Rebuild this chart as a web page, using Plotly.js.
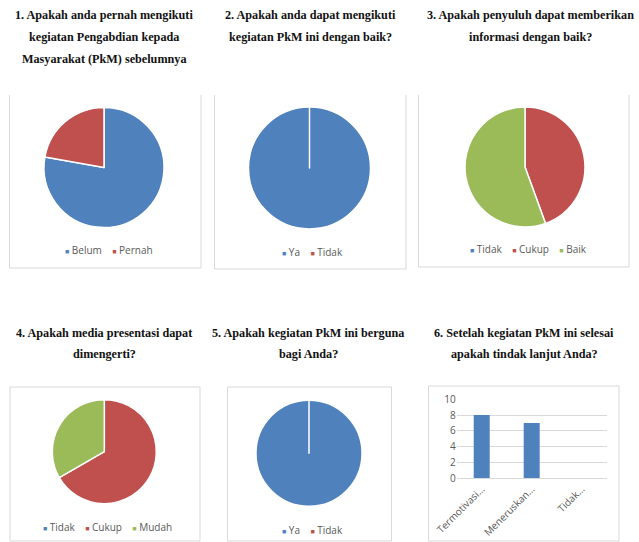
<!DOCTYPE html>
<html>
<head>
<meta charset="utf-8">
<script src="https://cdn.plot.ly/plotly-3.0.1.min.js"></script>
<style>html,body{margin:0;padding:0;background:#fff}#chart{width:639px;height:542px}</style>
</head>
<body>
<div id="chart"></div>
<script>
// ---- data ----
const q1Labels = ['Belum', 'Pernah'];
const q1Values = [7, 2];
const q2Labels = ['Ya', 'Tidak'];
const q2Values = [15, 0];
const q3Labels = ['Tidak', 'Cukup', 'Baik'];
const q3Values = [0, 4, 5];
const q4Labels = ['Tidak', 'Cukup', 'Mudah'];
const q4Values = [0, 6, 3];
const q5Labels = ['Ya', 'Tidak'];
const q5Values = [15, 0];
const q6Labels = ['Termotivasi…', 'Meneruskan…', 'Tidak…'];
const q6Values = [8, 7, 0];

const titles = [
  ['1. Apakah anda pernah mengikuti', 'kegiatan Pengabdian kepada', 'Masyarakat (PkM) sebelumnya'],
  ['2. Apakah anda dapat mengikuti', 'kegiatan PkM ini dengan baik?'],
  ['3. Apakah penyuluh dapat memberikan', 'informasi dengan baik?'],
  ['4. Apakah media presentasi dapat', 'dimengerti?'],
  ['5. Apakah kegiatan PkM ini berguna', 'bagi Anda?'],
  ['6. Setelah kegiatan PkM ini selesai', 'apakah tindak lanjut Anda?']
];

const BLUE = '#4F81BD', RED = '#C0504D', GREEN = '#9BBB59';
const W = 639, H = 542;
const px = x => x / W;
const py = y => 1 - y / H;

// layout geometry (pixels)
const pies = [
  {labels: q1Labels, values: q1Values, colors: [BLUE, RED], cx: 104, cy: 167.5, r: 60, legY: 250},
  {labels: q2Labels, values: q2Values, colors: [BLUE, RED], cx: 309.5, cy: 168, r: 61, legY: 252},
  {labels: q3Labels, values: q3Values, colors: [BLUE, RED, GREEN], cx: 525, cy: 167, r: 60, legY: 249},
  {labels: q4Labels, values: q4Values, colors: [BLUE, RED, GREEN], cx: 104.3, cy: 451.7, r: 52, legY: 527},
  {labels: q5Labels, values: q5Values, colors: [BLUE, RED], cx: 309, cy: 453.3, r: 53, legY: 530}
];
const legCx = [109, 312.5, 528, 107.5, 312.5];

const titlePos = [
  {x: 104, ys: [15, 37, 59]},
  {x: 310, ys: [15, 37]},
  {x: 530, ys: [15, 37]},
  {x: 104, ys: [333, 354]},
  {x: 308, ys: [333, 354]},
  {x: 524, ys: [333, 354]}
];

const traces = [];
const annotations = [];
const shapes = [];

pies.forEach((p, i) => {
  traces.push({
    type: 'pie',
    labels: p.labels,
    values: p.values,
    sort: false,
    direction: 'clockwise',
    rotation: 0,
    textinfo: 'none',
    hoverinfo: 'label+value',
    showlegend: false,
    marker: {colors: p.colors, line: {color: '#ffffff', width: 1.5}},
    domain: {x: [px(p.cx - p.r), px(p.cx + p.r)], y: [py(p.cy + p.r), py(p.cy - p.r)]}
  });
  const sp = '\u00A0\u00A0\u00A0\u00A0';
  const txt = p.labels.map((l, k) =>
    '<span style="font-size:7px;color:' + p.colors[k] + '">■</span>\u00A0' + l).join(sp);
  annotations.push({
    xref: 'paper', yref: 'paper', x: px(legCx[i]), y: py(p.legY),
    xanchor: 'center', yanchor: 'middle', showarrow: false,
    text: txt, font: {family: 'Open Sans, sans-serif', size: 10, color: '#595959'}
  });
});

traces.push({
  type: 'bar',
  x: q6Labels,
  y: q6Values,
  marker: {color: BLUE},
  xaxis: 'x', yaxis: 'y',
  showlegend: false,
  hoverinfo: 'x+y'
});

titles.forEach((lines, i) => {
  lines.forEach((t, k) => {
    annotations.push({
      xref: 'paper', yref: 'paper', x: px(titlePos[i].x), y: py(titlePos[i].ys[k]),
      xanchor: 'center', yanchor: 'middle', showarrow: false,
      text: '<b>' + t + '</b>',
      font: {family: 'Liberation Serif, Times New Roman, serif', size: 12.2, color: '#111111'}
    });
  });
});

// panel frames
const openBox = (x0, x1, y0, y1) => ({
  type: 'path', xref: 'paper', yref: 'paper',
  path: 'M' + px(x0) + ',' + py(y0) + ' L' + px(x0) + ',' + py(y1) + ' L' + px(x1) + ',' + py(y1) + ' L' + px(x1) + ',' + py(y0),
  line: {color: '#D9D9D9', width: 1}
});
const box = (x0, x1, y0, y1) => ({
  type: 'rect', xref: 'paper', yref: 'paper',
  x0: px(x0), x1: px(x1), y0: py(y1), y1: py(y0),
  line: {color: '#D9D9D9', width: 1}
});
shapes.push(openBox(9.5, 201, 95, 268));
shapes.push(openBox(214.5, 406, 95, 269));
shapes.push(openBox(418.5, 629, 95, 267));
shapes.push(box(10, 200, 387, 541));
shapes.push(box(227.5, 391.5, 387, 541));
shapes.push(box(428.5, 619, 386, 541));

const layout = {
  width: W, height: H,
  margin: {l: 0, r: 0, t: 0, b: 0},
  paper_bgcolor: '#ffffff', plot_bgcolor: '#ffffff',
  showlegend: false,
  bargap: 0.68,
  xaxis: {
    domain: [px(456.7), px(606.7)],
    anchor: 'y',
    type: 'category',
    tickangle: -45,
    tickfont: {family: 'Open Sans, sans-serif', size: 10, color: '#595959'},
    showline: true, linecolor: '#D9D9D9', linewidth: 1,
    ticks: '', showgrid: false, fixedrange: true
  },
  yaxis: {
    domain: [py(478.3), py(399.3)],
    anchor: 'x',
    range: [0, 10], dtick: 2,
    tickfont: {family: 'Open Sans, sans-serif', size: 10, color: '#595959'},
    gridcolor: '#D9D9D9', gridwidth: 1,
    zeroline: false, showline: false, ticks: '', ticklen: 0,
    fixedrange: true
  },
  annotations: annotations,
  shapes: shapes
};

Plotly.newPlot('chart', traces, layout, {displayModeBar: false, staticPlot: true});
</script>
</body>
</html>
